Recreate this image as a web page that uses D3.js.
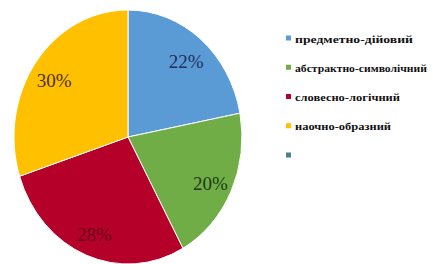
<!DOCTYPE html>
<html><head><meta charset="utf-8">
<script src="https://cdn.jsdelivr.net/npm/d3@7"></script>
<style>body{margin:0;background:#fff}svg{display:block}</style>
</head><body>
<svg id="c" width="433" height="264"></svg>
<script>
const categories = ["предметно-дійовий", "абстрактно-символічний", "словесно-логічний", "наочно-образний", ""];
const values = [22, 20, 28, 30];
const labels = ["22%", "20%", "28%", "30%"];
const colors = ["#5b9bd5", "#70ad47", "#b5002a", "#ffc000", "#4f7f8f"];
const labelColors = ["#1f2f5f", "#1d3a12", "#6a0018", "#4a3200"];
const serif = "'Liberation Serif', 'DejaVu Serif', 'Times New Roman', serif";

const svg = d3.select("#c");
const cx = 128, cy = 137, rx = 114, ry = 127;
const pie = d3.pie().sort(null).value(d => d)(values);
const arc = d3.arc().innerRadius(0).outerRadius(rx);
const g = svg.append("g").attr("transform", `translate(${cx},${cy}) scale(1,${ry/rx})`);
g.selectAll("path").data(pie).join("path")
  .attr("d", arc)
  .attr("fill", (d,i) => colors[i])
  .attr("stroke", "#fff")
  .attr("stroke-width", 1)
  .attr("vector-effect", "non-scaling-stroke");

const labelArc = d3.arc().innerRadius(rx*0.8).outerRadius(rx*0.8);
svg.append("g").attr("transform", `translate(${cx},${cy + 3})`)
  .selectAll("text").data(pie).join("text")
  .attr("x", d => labelArc.centroid(d)[0])
  .attr("y", d => labelArc.centroid(d)[1]*ry/rx)
  .attr("text-anchor", "middle")
  .attr("dominant-baseline", "central")
  .style("font-family", serif)
  .attr("font-size", 19)
  .attr("fill", (d,i) => labelColors[i])
  .text((d,i) => labels[i]);

const legY = d3.scalePoint().domain(d3.range(categories.length)).range([38, 155]);
const legendWidths = [118, 132, 105, 96, 0];
const leg = svg.append("g");
categories.forEach((c, i) => {
  leg.append("rect").attr("x", 286).attr("y", legY(i) - 2.5).attr("width", 5).attr("height", 5).attr("fill", colors[i]);
  if (c) {
    leg.append("text").attr("x", 295).attr("y", legY(i) + 0.5)
      .attr("dominant-baseline", "central")
      .style("font-family", serif)
      .style("font-weight", "bold")
      .attr("font-size", 11)
      .attr("fill", "#111")
      .attr("textLength", legendWidths[i])
      .attr("lengthAdjust", "spacingAndGlyphs")
      .text(c);
  }
});
</script>
</body></html>
